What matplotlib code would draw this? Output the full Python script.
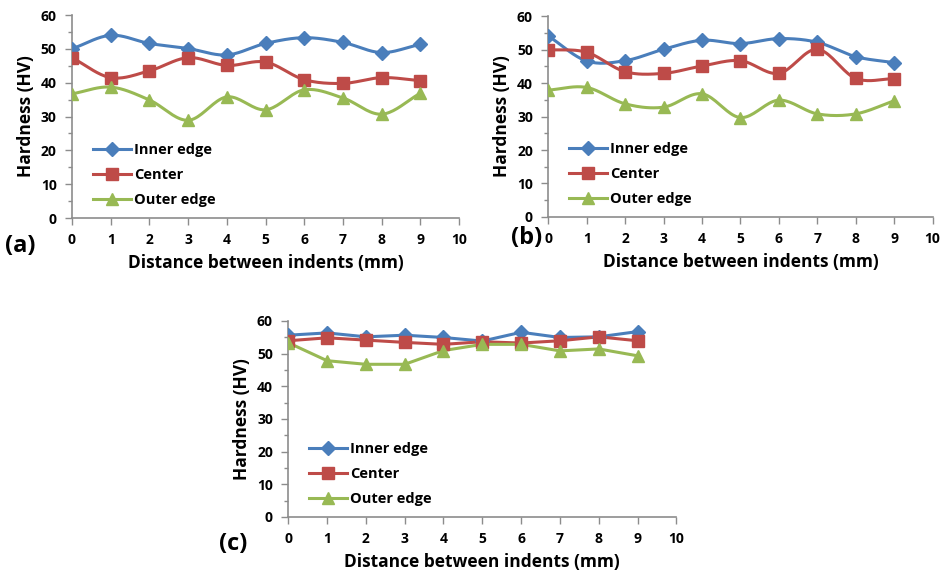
import numpy as np
import matplotlib
matplotlib.use("Agg")
import matplotlib.pyplot as plt
from matplotlib.ticker import MultipleLocator

plt.rcParams["font.family"] = ["Open Sans", "DejaVu Sans"]
plt.rcParams["font.weight"] = "bold"

# ── data ───────────────────────────────────────────────────────────────────────
x = [0, 1, 2, 3, 4, 5, 6, 7, 8, 9]

a_inner = [50.0, 54.0, 51.6, 50.1, 48.2, 51.6, 53.3, 51.9, 48.9, 51.4]
a_center = [47.4, 41.5, 43.5, 47.4, 45.1, 46.1, 40.9, 39.8, 41.5, 40.6]
a_outer = [36.7, 38.7, 34.9, 28.9, 35.8, 32.0, 37.9, 35.5, 30.7, 36.9]

b_inner = [54.1, 46.6, 46.7, 50.1, 52.8, 51.8, 53.3, 52.2, 47.9, 46.1]
b_center = [50.0, 49.2, 43.4, 42.9, 45.1, 46.7, 42.9, 50.1, 41.4, 41.3]
b_outer = [37.9, 38.7, 33.8, 32.8, 36.8, 29.7, 34.9, 30.8, 30.8, 34.7]

c_inner = [55.6, 56.3, 55.1, 55.6, 54.9, 53.8, 56.5, 54.9, 55.1, 56.7]
c_center = [53.9, 54.8, 54.1, 53.4, 52.8, 53.6, 53.2, 53.9, 55.1, 53.9]
c_outer = [53.3, 47.8, 46.7, 46.7, 50.9, 52.8, 52.8, 50.8, 51.4, 49.3]

labels = ["Inner edge", "Center", "Outer edge"]
colors = ["#4A7EBB", "#BE4B48", "#98B954"]
markers = ["D", "s", "^"]
msizes = [7, 9, 9]


def smooth(xs, ys, n=20):
    # Catmull-Rom style curve through the points (Excel "smoothed line" look)
    xs = np.asarray(xs, float)
    ys = np.asarray(ys, float)
    px = np.concatenate([[2 * xs[0] - xs[1]], xs, [2 * xs[-1] - xs[-2]]])
    py = np.concatenate([[2 * ys[0] - ys[1]], ys, [2 * ys[-1] - ys[-2]]])
    ox, oy = [], []
    t = np.linspace(0, 1, n, endpoint=False)
    for i in range(1, len(px) - 2):
        for p, out in ((px, ox), (py, oy)):
            p0, p1, p2, p3 = p[i - 1], p[i], p[i + 1], p[i + 2]
            out.extend(
                0.5
                * (
                    2 * p1
                    + (-p0 + p2) * t
                    + (2 * p0 - 5 * p1 + 4 * p2 - p3) * t**2
                    + (-p0 + 3 * p1 - 3 * p2 + p3) * t**3
                )
            )
    ox.append(xs[-1])
    oy.append(ys[-1])
    return np.array(ox), np.array(oy)


def panel(ax, series, tag, tag_xy, is_smooth):
    for ys, lab, col, mk, ms in zip(series, labels, colors, markers, msizes):
        if is_smooth:
            sx, sy = smooth(x, ys)
            ax.plot(sx, sy, color=col, linewidth=2.2, zorder=2)
        else:
            ax.plot(x, ys, color=col, linewidth=2.2, zorder=2)
        ax.plot(x, ys, linestyle="none", marker=mk, markersize=ms, color=col, zorder=3)
        ax.plot([], [], color=col, linewidth=2.2, marker=mk, markersize=ms, label=lab)
    ax.set_xlim(0, 10)
    ax.set_ylim(0, 60)
    ax.xaxis.set_major_locator(MultipleLocator(1))
    ax.yaxis.set_major_locator(MultipleLocator(10))
    ax.yaxis.set_minor_locator(MultipleLocator(5))
    for s in ("top", "right"):
        ax.spines[s].set_visible(False)
    for s in ("left", "bottom"):
        ax.spines[s].set_color("#8C8C8C")
        ax.spines[s].set_linewidth(1.2)
    ax.tick_params(which="both", color="#8C8C8C", direction="out", width=1.0)
    ax.tick_params(which="major", length=5, labelsize=10, pad=6)
    ax.tick_params(which="minor", length=3)
    for lbl in ax.get_xticklabels() + ax.get_yticklabels():
        lbl.set_fontweight("bold")
    ax.set_xlabel("Distance between indents (mm)", fontsize=12.5, fontweight="bold", labelpad=5)
    ax.set_ylabel("Hardness (HV)", fontsize=12.5, fontweight="bold", labelpad=4)
    ax.legend(
        loc="lower left",
        bbox_to_anchor=(0.02, -0.01),
        frameon=False,
        handlelength=2.6,
        handletextpad=0.2,
        labelspacing=0.75,
        prop={"weight": "bold", "size": 10.5},
    )
    fig.text(tag_xy[0], tag_xy[1], tag, fontsize=17, fontweight="bold", ha="left", va="center")


fig = plt.figure(figsize=(9.42, 5.77), dpi=100)
ax_a = fig.add_axes([0.0764, 0.622, 0.411, 0.352])
ax_b = fig.add_axes([0.582, 0.624, 0.408, 0.348])
ax_c = fig.add_axes([0.306, 0.104, 0.412, 0.340])

panel(ax_a, [a_inner, a_center, a_outer], "(a)", (0.005, 1 - 246 / 577), True)
panel(ax_b, [b_inner, b_center, b_outer], "(b)", (0.542, 1 - 238 / 577), True)
panel(ax_c, [c_inner, c_center, c_outer], "(c)", (0.232, 1 - 544 / 577), False)

fig.savefig("out.png", dpi=100)
